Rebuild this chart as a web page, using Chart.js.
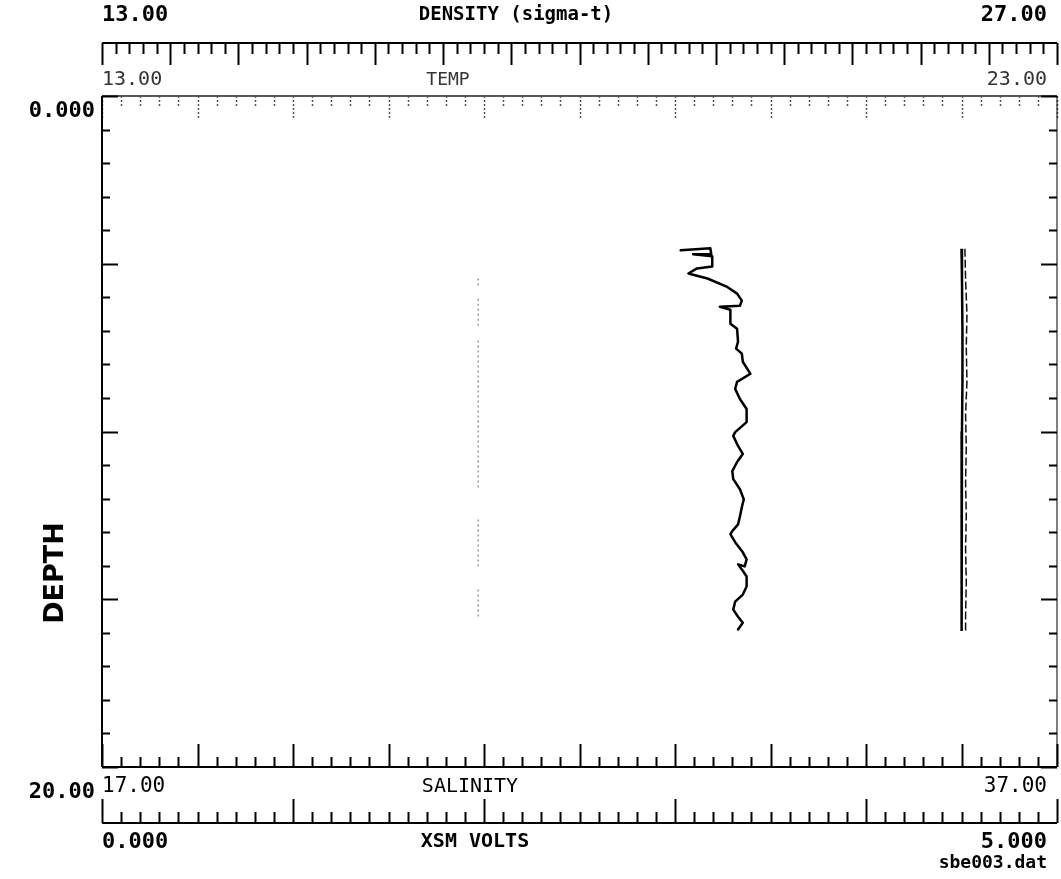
<!DOCTYPE html>
<html>
<head>
<meta charset="utf-8">
<script src="https://cdn.jsdelivr.net/npm/chart.js@4/dist/chart.umd.min.js"></script>
<style>
  html, body { margin: 0; padding: 0; background: #fff; }
  canvas { display: block; }
</style>
</head>
<body>
<canvas id="ctd" width="1061" height="879"></canvas>
<script>
// temperature trace (deg C) vs depth
const tempDepth = [4.60, 4.54, 4.72, 4.72, 4.78, 5.08, 5.14, 5.29, 5.44, 5.68, 5.89, 6.10, 6.25, 6.28, 6.37, 6.79, 6.94, 7.32, 7.53, 7.68, 7.92, 8.28,
  8.52, 8.73, 9.03, 9.33, 9.72, 10.02, 10.13, 10.43, 10.67, 10.91, 11.18, 11.42, 11.72, 12.02, 12.26, 12.53, 12.77, 12.97, 13.06, 13.30,
  13.60, 13.81, 14.02, 13.96, 14.11, 14.32, 14.62, 14.86, 15.07, 15.31, 15.52, 15.70, 15.90];
const tempValues = [19.06, 19.37, 19.38, 19.19, 19.39, 19.39, 19.23, 19.14, 19.34, 19.54, 19.65, 19.70, 19.68, 19.47, 19.58, 19.58, 19.65, 19.66, 19.64, 19.70, 19.71, 19.79,
  19.65, 19.63, 19.68, 19.75, 19.75, 19.63, 19.61, 19.66, 19.71, 19.65, 19.60, 19.61, 19.68, 19.72, 19.70, 19.68, 19.66, 19.60, 19.58, 19.63,
  19.71, 19.75, 19.73, 19.66, 19.70, 19.75, 19.75, 19.71, 19.63, 19.61, 19.66, 19.71, 19.66];

// salinity vs depth
const salDepth = [4.55, 5.5, 7.0, 8.5, 10.0, 11.5, 13.0, 14.5, 15.95];
const salValues = [35.00, 35.01, 35.02, 35.02, 35.01, 35.01, 35.00, 35.00, 35.00];

// density (sigma-t) vs depth
const densDepth = [4.55, 5.5, 6.5, 7.5, 8.5, 9.5, 10.5, 11.5, 12.5, 13.5, 14.5, 15.5, 15.95];
const densValues = [25.65, 25.66, 25.68, 25.67, 25.68, 25.66, 25.67, 25.66, 25.67, 25.66, 25.67, 25.66, 25.66];

// xsm volts vs depth, null = dropout
const voltDepth = [5.44, 5.74, 5.8, 6.04, 6.85, 7.0, 7.29, 11.72, 12.0, 12.62, 14.02, 14.3, 14.71, 15.55];
const voltValues = [1.97, 1.97, null, 1.97, 1.97, null, 1.97, 1.97, null, 1.97, 1.97, null, 1.97, 1.97];

// axis ranges and labels
const depthRange = [0, 20];
const depthLabels = ['0.000', '20.00'];
const densRange = [13, 27];
const densLabels = ['13.00', '27.00'];
const tempRange = [13, 23];
const tempLabels = ['13.00', '23.00'];
const salRange = [17, 37];
const salLabels = ['17.00', '37.00'];
const voltRange = [0, 5];
const voltLabels = ['0.000', '5.000'];

const pts = (ys, xs) => xs.map((x, i) => (x === null ? { x: null, y: null } : { x: x, y: ys[i] }));

const MONO = '"DejaVu Sans Mono", monospace';

// tick marks: step between minor ticks, every `major`-th tick is long
function hTicks(ctx, scale, y, range, step, major, dir, minLen, majLen) {
  const n = Math.round((range[1] - range[0]) / step);
  for (let i = 0; i <= n; i++) {
    const x = Math.round(scale.getPixelForValue(range[0] + i * step)) + 0.5;
    const len = (i % major === 0) ? majLen : minLen;
    ctx.beginPath();
    ctx.moveTo(x, y);
    ctx.lineTo(x, y + dir * len);
    ctx.stroke();
  }
}

function vTicks(ctx, scale, x, range, step, major, dir, minLen, majLen) {
  const n = Math.round((range[1] - range[0]) / step);
  for (let i = 0; i <= n; i++) {
    const y = Math.round(scale.getPixelForValue(range[0] + i * step)) + 0.5;
    const len = (i % major === 0) ? majLen : minLen;
    ctx.beginPath();
    ctx.moveTo(x, y);
    ctx.lineTo(x + dir * len, y);
    ctx.stroke();
  }
}

function text(ctx, s, x, y, font, align, color) {
  ctx.font = font;
  ctx.textAlign = align;
  ctx.textBaseline = 'middle';
  ctx.fillStyle = color || '#000';
  ctx.fillText(s, x, y);
}

const plotterAxes = {
  id: 'plotterAxes',
  afterDraw(chart) {
    const ctx = chart.ctx;
    const a = chart.chartArea;
    const s = chart.scales;
    const L = a.left, R = a.right;
    const densY = 43, salY = a.bottom, voltY = 823;

    ctx.save();
    ctx.strokeStyle = '#000';
    ctx.lineWidth = 2;

    // density axis (top)
    ctx.beginPath(); ctx.moveTo(L, densY); ctx.lineTo(R, densY); ctx.stroke();
    hTicks(ctx, s.dens, densY, densRange, 0.2, 5, 1, 11, 22);
    text(ctx, densLabels[0], L, 15, 'bold 22px ' + MONO, 'left');
    text(ctx, 'DENSITY (sigma-t)', 516, 15, 'bold 19px ' + MONO, 'center');
    text(ctx, densLabels[1], R - 10, 15, 'bold 22px ' + MONO, 'right');

    // temperature axis, lighter pen
    ctx.lineWidth = 1.5;
    ctx.strokeStyle = '#222';
    ctx.beginPath(); ctx.moveTo(L, a.top); ctx.lineTo(R, a.top); ctx.stroke();
    ctx.strokeStyle = '#555';
    ctx.setLineDash([2, 2]);
    hTicks(ctx, s.temp, a.top, tempRange, 0.2, 5, 1, 10, 24);
    ctx.setLineDash([]);
    text(ctx, tempLabels[0], L, 80, '20px ' + MONO, 'left', '#333');
    text(ctx, 'TEMP', 448, 80, '18px ' + MONO, 'center', '#333');
    text(ctx, tempLabels[1], R - 10, 80, '20px ' + MONO, 'right', '#333');

    // depth axes (left and right)
    ctx.strokeStyle = '#000';
    ctx.lineWidth = 2;
    ctx.beginPath(); ctx.moveTo(L, a.top); ctx.lineTo(L, a.bottom); ctx.stroke();
    vTicks(ctx, s.y, L, depthRange, 1, 5, 1, 8, 16);
    ctx.lineWidth = 1;
    ctx.beginPath(); ctx.moveTo(R, a.top); ctx.lineTo(R, a.bottom); ctx.stroke();
    ctx.lineWidth = 2;
    vTicks(ctx, s.y, R, depthRange, 1, 5, -1, 8, 16);
    text(ctx, depthLabels[0], 95, 111, 'bold 22px ' + MONO, 'right');
    text(ctx, depthLabels[1], 95, 792, 'bold 22px ' + MONO, 'right');
    ctx.save();
    ctx.translate(56, 573);
    ctx.rotate(-Math.PI / 2);
    text(ctx, 'DEPTH', 0, 0, 'bold 27px "DejaVu Sans", sans-serif', 'center');
    ctx.restore();

    // salinity axis (bottom of plot)
    ctx.beginPath(); ctx.moveTo(L, salY); ctx.lineTo(R, salY); ctx.stroke();
    hTicks(ctx, s.sal, salY, salRange, 0.4, 5, -1, 10, 23);
    text(ctx, salLabels[0], L, 787, '21px ' + MONO, 'left');
    text(ctx, 'SALINITY', 470, 787, '20px ' + MONO, 'center');
    text(ctx, salLabels[1], R - 10, 787, '21px ' + MONO, 'right');

    // xsm volts axis
    ctx.beginPath(); ctx.moveTo(L, voltY); ctx.lineTo(R, voltY); ctx.stroke();
    hTicks(ctx, s.volt, voltY, voltRange, 0.1, 10, -1, 11, 24);
    text(ctx, voltLabels[0], L, 842, 'bold 22px ' + MONO, 'left');
    text(ctx, 'XSM VOLTS', 475, 842, 'bold 20px ' + MONO, 'center');
    text(ctx, voltLabels[1], R - 10, 842, 'bold 22px ' + MONO, 'right');
    text(ctx, 'sbe003.dat', R - 10, 863, 'bold 18px ' + MONO, 'right');

    ctx.restore();
  }
};

new Chart(document.getElementById('ctd'), {
  type: 'scatter',
  data: {
    datasets: [
      {
        label: 'XSM VOLTS',
        data: pts(voltDepth, voltValues),
        xAxisID: 'volt',
        showLine: true,
        spanGaps: false,
        borderColor: '#999',
        borderWidth: 1.5,
        borderDash: [2, 3],
        pointRadius: 0
      },
      {
        label: 'TEMP',
        data: pts(tempDepth, tempValues),
        xAxisID: 'temp',
        showLine: true,
        borderColor: '#000',
        borderWidth: 2.5,
        borderJoinStyle: 'round',
        borderCapStyle: 'round',
        pointRadius: 0,
        tension: 0
      },
      {
        label: 'DENSITY',
        data: pts(densDepth, densValues),
        xAxisID: 'dens',
        showLine: true,
        borderColor: '#111',
        borderWidth: 1.5,
        borderDash: [8, 3],
        pointRadius: 0
      },
      {
        label: 'SALINITY',
        data: pts(salDepth, salValues),
        xAxisID: 'sal',
        showLine: true,
        borderColor: '#000',
        borderWidth: 2.5,
        pointRadius: 0
      }
    ]
  },
  options: {
    responsive: false,
    animation: false,
    layout: { padding: { left: 102, right: 4, top: 96, bottom: 112 } },
    plugins: { legend: { display: false }, tooltip: { enabled: false } },
    scales: {
      y: { type: 'linear', min: depthRange[0], max: depthRange[1], reverse: true, display: false },
      temp: { type: 'linear', axis: 'x', min: tempRange[0], max: tempRange[1], display: false },
      dens: { type: 'linear', axis: 'x', min: densRange[0], max: densRange[1], display: false },
      sal: { type: 'linear', axis: 'x', min: salRange[0], max: salRange[1], display: false },
      volt: { type: 'linear', axis: 'x', min: voltRange[0], max: voltRange[1], display: false }
    }
  },
  plugins: [plotterAxes]
});
</script>
</body>
</html>
